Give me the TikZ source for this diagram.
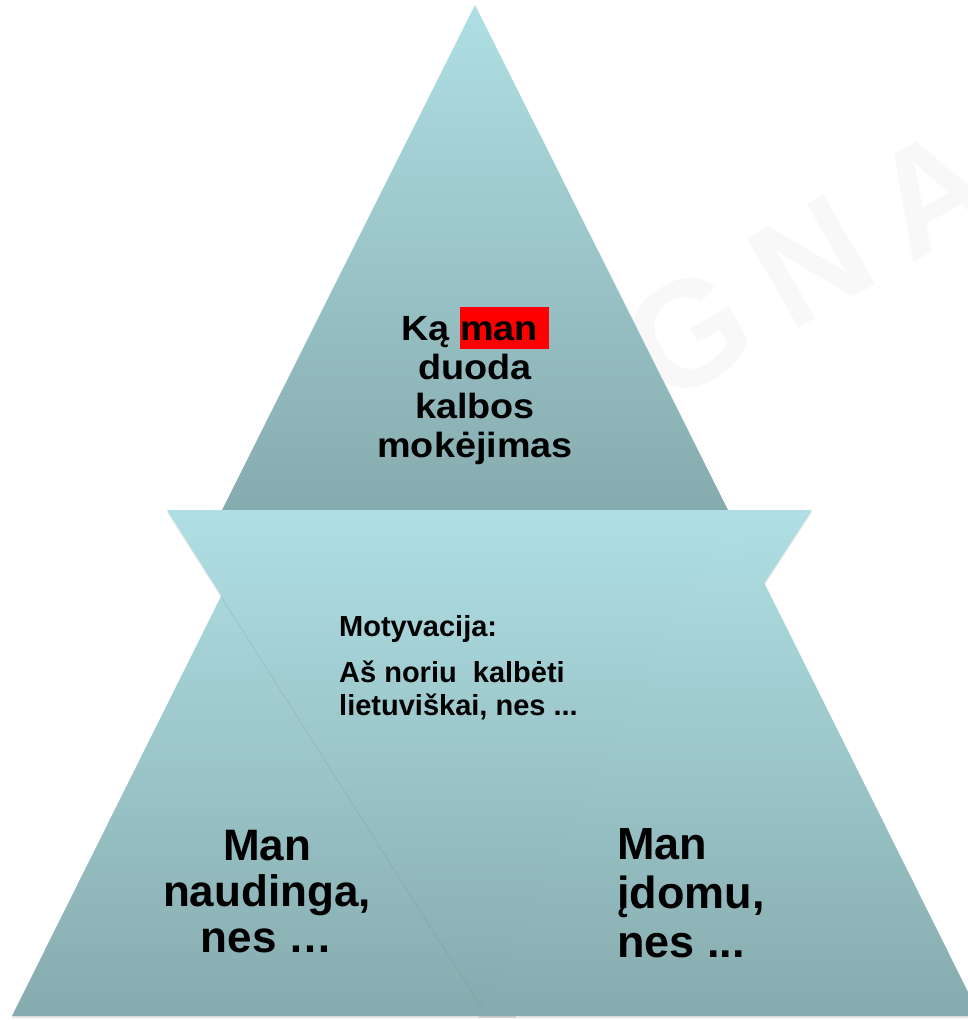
\documentclass[tikz,border=0pt]{standalone}
\usepackage{fontspec}
\setmainfont{Liberation Sans}
\newfontfamily\widesans{Liberation Sans}[FakeStretch=1.08]
\usetikzlibrary{shadows}

\definecolor{tealL}{RGB}{175,223,228}
\definecolor{tealD}{RGB}{134,171,174}
\definecolor{mark}{RGB}{255,0,0}
\definecolor{wmark}{RGB}{248,248,248}
\newcommand{\hilite}[1]{{\setlength{\fboxsep}{0pt}\colorbox{mark}{\rule[-9pt]{0pt}{42pt}#1\ }}}

\begin{document}
\begin{tikzpicture}[x=1pt,y=-1pt,
  tri/.style={top color=tealL, bottom color=tealD,
    drop shadow={shadow xshift=0pt, shadow yshift=-2pt, opacity=.2}},
  lbl/.style={inner sep=0pt}]

  \useasboundingbox (0,0) rectangle (967,1020);

  \node[lbl, text=wmark, rotate=30, font=\fontsize{150}{150}\selectfont\bfseries]
    (wm) at (808,264) {G\hspace{30pt}N\hspace{30pt}A};

  \path[tri] (475,5) -- (728,510) -- (222,510) -- cycle;
  \path[tri] (264,510) -- (516,1016) -- (12,1016) -- cycle;
  \path[tri] (167,510) -- (812,510) -- (485,1012) -- cycle;
  \path[tri] (729,512) -- (980,1016) -- (478,1016) -- cycle;

  % base = last line of each label
  \node[lbl, align=center, anchor=base, font=\widesans\bfseries\fontsize{35}{39}\selectfont]
    (gain) at (475,457) {Ką \hilite{man}\\duoda\\kalbos\\mokėjimas};
  \node[lbl, align=left, anchor=base west, font=\bfseries\fontsize{29}{33}\selectfont]
    (motiv) at (339,715) {Motyvacija:\\[13pt]Aš noriu\ \ kalbėti\\lietuviškai, nes ...};
  \node[lbl, align=center, anchor=base, font=\bfseries\fontsize{44}{46}\selectfont]
    (useful) at (267,952) {Man\\naudinga,\\nes …};
  \node[lbl, align=left, anchor=base west, font=\bfseries\fontsize{45}{49}\selectfont]
    (fun) at (617,957) {Man\\įdomu,\\nes ...};
\end{tikzpicture}
\end{document}
